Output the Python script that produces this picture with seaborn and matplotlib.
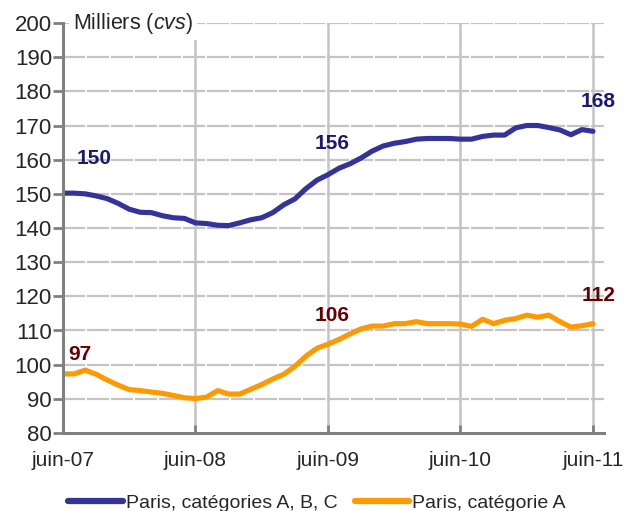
import numpy as np
import pandas as pd
import matplotlib
matplotlib.use("Agg")
import matplotlib.pyplot as plt
from matplotlib.lines import Line2D
import seaborn as sns

# monthly values, juin-07 .. juin-11 (thousands, cvs)
months = list(range(49))
abc_values = [150.2, 150.2, 150.0, 149.4, 148.6, 147.2, 145.5, 144.6, 144.5, 143.6,
              143.0, 142.8, 141.5, 141.3, 140.8, 140.7, 141.5, 142.4, 143.0, 144.5,
              146.8, 148.5, 151.5, 154.0, 155.6, 157.5, 158.8, 160.5, 162.5, 164.0,
              164.8, 165.3, 166.0, 166.2, 166.2, 166.2, 166.0, 166.0, 166.8, 167.2,
              167.2, 169.3, 170.0, 170.0, 169.4, 168.7, 167.3, 168.8, 168.3]
a_values = [97.3, 97.3, 98.4, 97.2, 95.5, 94.0, 92.7, 92.4, 92.0, 91.6,
            91.0, 90.3, 90.1, 90.5, 92.4, 91.4, 91.4, 92.8, 94.2, 95.8,
            97.2, 99.5, 102.5, 104.8, 106.0, 107.4, 109.0, 110.5, 111.3, 111.3,
            112.0, 112.0, 112.6, 112.0, 112.0, 112.0, 111.9, 111.2, 113.3, 112.0,
            113.0, 113.5, 114.5, 113.9, 114.5, 112.6, 111.0, 111.4, 112.0]

series_names = ["Paris, catégories A, B, C", "Paris, catégorie A"]
tick_pos = [0, 12, 24, 36, 48]
tick_labels = ["juin-07", "juin-08", "juin-09", "juin-10", "juin-11"]

# value labels: (text, x month, y value)
labels_abc = [("150", 2.8, 160.2), ("156", 24.4, 164.6), ("168", 48.5, 176.9)]
labels_a = [("97", 1.5, 103.1), ("106", 24.4, 114.5), ("112", 48.5, 120.1)]

BLUE = "#333399"
ORANGE = "#FF9900"
NAVY = "#1A1A70"
MAROON = "#660000"
GRID = "#C4C4C4"
AXIS = "#808080"

df = pd.DataFrame({
    "month": months * 2,
    "value": abc_values + a_values,
    "serie": [series_names[0]] * len(months) + [series_names[1]] * len(months),
})

sns.set_style("white")
plt.rcParams["font.family"] = ["Liberation Sans", "DejaVu Sans"]
plt.rcParams["mathtext.fontset"] = "custom"
plt.rcParams["mathtext.rm"] = "Liberation Sans"
plt.rcParams["mathtext.it"] = "Liberation Sans:italic"

fig = plt.figure(figsize=(6.28, 5.11), dpi=100)
ax = fig.add_axes([63 / 628, 1 - 433 / 511, (604 - 63) / 628, (433 - 23) / 511])

sns.lineplot(data=df, x="month", y="value", hue="serie",
             palette=[BLUE, ORANGE], linewidth=3.7, legend=False, ax=ax)

ax.set_xlim(0, 49)
ax.set_ylim(80, 200)
ax.set_yticks(range(80, 201, 10))
ax.set_xticks(tick_pos)
ax.set_xticklabels(tick_labels)
ax.set_xlabel("")
ax.set_ylabel("")

for y in range(90, 201, 10):
    ax.axhline(y, color=GRID, linewidth=1.6, linestyle=(0, (10, 0.8)), zorder=0)
for x in tick_pos[1:]:
    ax.axvline(x, color=GRID, linewidth=1.8, zorder=0)

for side in ["top", "right"]:
    ax.spines[side].set_visible(False)
for side in ["left", "bottom"]:
    ax.spines[side].set_color(AXIS)
    ax.spines[side].set_linewidth(2.2)

ax.tick_params(axis="y", direction="out", length=7, width=2, color=AXIS,
               labelsize=16, pad=1, left=True)
ax.tick_params(axis="x", direction="in", length=6, width=2, color=AXIS,
               labelsize=15, pad=13, bottom=True)

for txt, x, y in labels_abc:
    ax.text(x, y, txt, color=NAVY, fontsize=15, fontweight="bold",
            ha="center", va="center")
for txt, x, y in labels_a:
    ax.text(x, y, txt, color=MAROON, fontsize=15, fontweight="bold",
            ha="center", va="center")

# unit label with white box over the grid
ax.text(0.9, 200, r"Milliers ($\mathit{cvs}$)", fontsize=15.5, ha="left",
        va="center", zorder=5,
        bbox=dict(facecolor="white", edgecolor="none", pad=3))

handles = [Line2D([], [], color=BLUE, linewidth=4.5),
           Line2D([], [], color=ORANGE, linewidth=4.5)]
fig.legend(handles, series_names, loc="center", bbox_to_anchor=(0.505, 0.016),
           ncol=2, frameon=False, fontsize=14, handlelength=2.8,
           handletextpad=0.15, columnspacing=0.9)

fig.savefig("out.png", dpi=100)
